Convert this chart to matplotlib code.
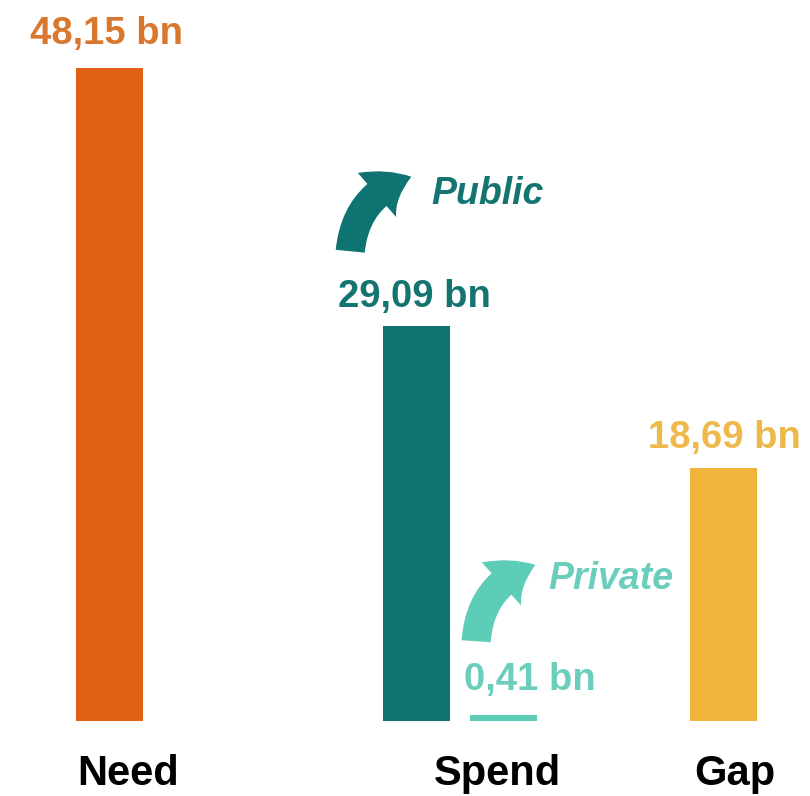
import matplotlib
matplotlib.use("Agg")
import matplotlib.pyplot as plt
from matplotlib.patches import FancyArrowPatch

categories = ["Need", "Spend", "Gap"]
series_names = ["Need", "Public", "Private", "Gap"]
values = [48.15, 29.09, 0.41, 18.69]
value_labels = ["48,15 bn", "29,09 bn", "0,41 bn", "18,69 bn"]
bar_colors = ["#E06114", "#0D7471", "#5ECDB8", "#F0B43C"]
label_colors = ["#D9772E", "#137470", "#6BCDBB", "#EFB84A"]

W, H = 810, 796
fig = plt.figure(figsize=(W / 100, H / 100), dpi=100)
ax = fig.add_axes([0, 0, 1, 1])
ax.set_xlim(0, W)
scale = 653 / 48.15
base = 75
ax.set_ylim(-base / scale, (H - base) / scale)
ax.axis("off")

xc = [109, 416.5, 503.5, 723.5]
bw = 67
ax.bar(xc, values, width=bw, color=bar_colors)

font = "Liberation Sans"

def py(ypx):
    return (H - ypx - base) / scale

lab_x = [107, 414, 530, 724]
lab_y_px = [34, 297, 680, 438]
for x, ypx, t, c in zip(lab_x, lab_y_px, value_labels, label_colors):
    ax.text(x, py(ypx), t, color=c, fontsize=27.5, fontweight="bold",
            family=font, ha="center", va="center")

cat_x = [128, 497, 735]
for x, t in zip(cat_x, categories):
    ax.text(x, py(774), t, color="black", fontsize=30, fontweight="bold",
            family=font, ha="center", va="center")

ax.text(488, py(194), "Public", color=label_colors[1], fontsize=27, fontweight="bold",
        style="italic", family=font, ha="center", va="center")
ax.text(611, py(579), "Private", color=label_colors[2], fontsize=27, fontweight="bold",
        style="italic", family=font, ha="center", va="center")

def arrow(x0, y0, x1, y1, c):
    a = FancyArrowPatch((x0, py(y0)), (x1, py(y1)), connectionstyle="arc3,rad=-0.35",
                        arrowstyle="simple,head_width=3.0,head_length=2.0,tail_width=1.5",
                        mutation_scale=14, color=c, lw=0)
    ax.add_patch(a)

arrow(350, 254, 414, 176, bar_colors[1])
arrow(476, 644, 538, 564, bar_colors[2])

fig.savefig("out.png", dpi=100, facecolor="white")
